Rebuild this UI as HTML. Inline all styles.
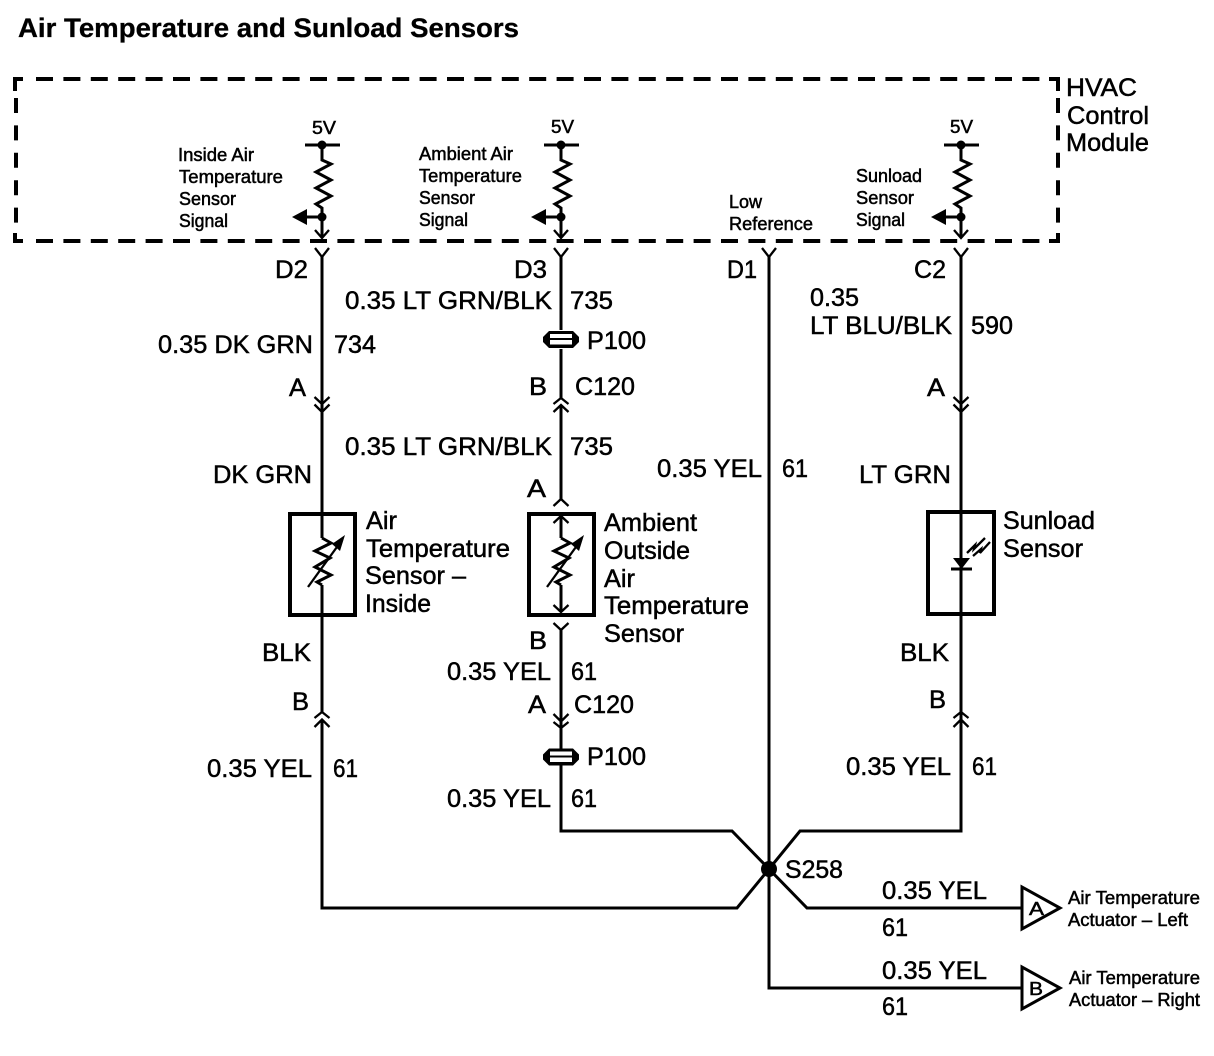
<!DOCTYPE html>
<html><head><meta charset="utf-8"><title>Air Temperature and Sunload Sensors</title>
<style>
html,body{margin:0;padding:0;background:#fff;width:1214px;height:1056px;overflow:hidden}
svg{display:block}
text{font-family:"Liberation Sans",Arial,sans-serif;fill:#000;stroke:#000;stroke-width:.5px}
.b{font-size:25px}.s{font-size:18px}
.t{font-size:27px;font-weight:bold;stroke-width:.3px}
.w{fill:none;stroke:#000;stroke-width:3}
.n{fill:none;stroke:#000;stroke-width:2.3}
.f{fill:#000;stroke:none}
.d{fill:none;stroke:#000;stroke-width:4}
</style></head><body>
<svg width="1214" height="1056" viewBox="0 0 1214 1056" xmlns="http://www.w3.org/2000/svg">
<defs>
<g id="res"><path class="w" d="M0 145V160L9 164L-6 172L9 180L-6 188L9 196L-6 204L0 208V238"/>
<path class="w" d="M-17 145H18"/><circle class="f" cx="0" cy="145" r="4.500"/><circle class="f" cx="0" cy="217" r="4.500"/>
<path class="w" d="M0 217H-16"/><path class="f" d="M-30 217L-15 209V225Z"/>
<path class="n" d="M-7 230L0 238L7 230"/><path class="n" d="M-7 248L0 257L7 248"/></g>
<path id="dn" class="n" d="M-7.500 397L0 404L7.500 397M-7.500 404.500L0 412L7.500 404.500"/>
<path id="up" class="n" d="M-7.500 718L0 712L7.500 718M-7.500 727L0 719.500L7.500 727"/>
<g id="p">
<path class="f" d="M-12 -8.500H12L18 -2.500V2.500L12 8.500H-12L-18 2.500V-2.500Z"/>
<rect x="-11" y="-5.500" width="22" height="4" fill="#fff"/>
<rect x="-11" y="0.500" width="22" height="4.500" fill="#fff"/>
</g>
<g id="th"><path class="w" d="M0 538L9 543L-7 551L8 558L-7 567L9 575L-5 582L0 585"/>
<path class="n" d="M-14 587L20 540"/><path class="f" d="M23 535L10 544L18 551Z"/></g>
</defs>

<text class="t" x="18" y="37" textLength="501" lengthAdjust="spacingAndGlyphs">Air Temperature and Sunload Sensors</text>

<path class="d" d="M15 91V79H23M1049 79H1058V91M15 233V241H23M1049 241H1058V233"/>
<path class="d" d="M36 79H1040M36 241H1040" stroke-dasharray="17 10.400"/>
<path class="d" d="M16 98V225M1058 98V225" stroke-dasharray="15 12.400"/>

<use href="#res" x="322"/><use href="#res" x="561"/><use href="#res" x="961"/>
<path class="n" d="M762 248L769 257L776 248"/>

<path class="w" d="M322 257V538M322 585V712M322 720V908H737L769 869L732 831H561V765M561 330V257M561 349V398M561 405V499"/>
<path class="w" d="M561 630V721M561 721V750"/>
<path class="w" d="M961 257V831H800L769 869L807 908H1022"/>
<path class="w" d="M769 257V988H1022"/>
<circle class="f" cx="769" cy="869" r="8"/>

<use href="#dn" x="322"/><use href="#dn" x="961"/>
<use href="#up" x="322"/><use href="#up" x="961"/>
<path class="n" d="M553.500 404L561 398L568.500 404M553.500 412L561 405L568.500 412"/>
<path class="n" d="M553.500 506L561 499L568.500 506"/>
<path class="n" d="M553.500 623L561 630L568.500 623"/>
<path class="n" d="M553.500 714L561 721.500L568.500 714M553.500 722L561 728L568.500 722"/>
<use href="#p" x="561" y="339.500"/><use href="#p" x="561" y="757"/>

<rect x="290" y="514" width="65" height="101" fill="none" stroke="#000" stroke-width="4"/>
<rect x="529" y="514" width="65" height="101" fill="none" stroke="#000" stroke-width="4"/>
<rect x="928" y="512" width="66" height="102" fill="none" stroke="#000" stroke-width="4"/>
<use href="#th" x="322"/><use href="#th" x="561"/>
<path class="w" d="M561 517V538M561 585V612"/>
<path class="n" d="M553.500 523L561 516L568.500 523M553.500 605L561 612L568.500 605"/>
<path class="f" d="M953 558H970L961.500 569Z"/><path class="w" d="M951 569H972"/>
<path class="n" d="M967 553L975 545L974 549L985 538M973 556L981 549L980 553L990 542"/>

<path d="M1022 887V929L1060 908Z" fill="#fff" stroke="#000" stroke-width="3"/>
<path d="M1022 967V1009L1060 988Z" fill="#fff" stroke="#000" stroke-width="3"/>

<g class="s">
<text class="s" x="312" y="134" textLength="24" lengthAdjust="spacingAndGlyphs">5V</text>
<text class="s" x="551" y="133" textLength="23" lengthAdjust="spacingAndGlyphs">5V</text>
<text class="s" x="950" y="133" textLength="23" lengthAdjust="spacingAndGlyphs">5V</text>
<text class="s" x="178" y="161" textLength="76" lengthAdjust="spacingAndGlyphs">Inside Air</text>
<text class="s" x="179" y="183" textLength="104" lengthAdjust="spacingAndGlyphs">Temperature</text>
<text class="s" x="179" y="205" textLength="57" lengthAdjust="spacingAndGlyphs">Sensor</text>
<text class="s" x="179" y="227" textLength="49" lengthAdjust="spacingAndGlyphs">Signal</text>
<text class="s" x="419" y="160" textLength="94" lengthAdjust="spacingAndGlyphs">Ambient Air</text>
<text class="s" x="419" y="182" textLength="103" lengthAdjust="spacingAndGlyphs">Temperature</text>
<text class="s" x="419" y="204" textLength="56" lengthAdjust="spacingAndGlyphs">Sensor</text>
<text class="s" x="419" y="226" textLength="49" lengthAdjust="spacingAndGlyphs">Signal</text>
<text class="s" x="729" y="208" textLength="33" lengthAdjust="spacingAndGlyphs">Low</text>
<text class="s" x="729" y="230" textLength="84" lengthAdjust="spacingAndGlyphs">Reference</text>
<text class="s" x="856" y="182" textLength="66" lengthAdjust="spacingAndGlyphs">Sunload</text>
<text class="s" x="856" y="204" textLength="58" lengthAdjust="spacingAndGlyphs">Sensor</text>
<text class="s" x="856" y="226" textLength="49" lengthAdjust="spacingAndGlyphs">Signal</text>
<text class="s" x="1068" y="904" textLength="132" lengthAdjust="spacingAndGlyphs">Air Temperature</text>
<text class="s" x="1068" y="926" textLength="120" lengthAdjust="spacingAndGlyphs">Actuator – Left</text>
<text class="s" x="1069" y="984" textLength="131" lengthAdjust="spacingAndGlyphs">Air Temperature</text>
<text class="s" x="1069" y="1006" textLength="131" lengthAdjust="spacingAndGlyphs">Actuator – Right</text>
<text class="s" x="1029" y="915" textLength="15" lengthAdjust="spacingAndGlyphs">A</text>
<text class="s" x="1029" y="995" textLength="14" lengthAdjust="spacingAndGlyphs">B</text>
</g>

<text class="b" x="1066" y="96" textLength="71" lengthAdjust="spacingAndGlyphs">HVAC</text>
<text class="b" x="1067" y="124" textLength="82" lengthAdjust="spacingAndGlyphs">Control</text>
<text class="b" x="1066" y="151" textLength="83" lengthAdjust="spacingAndGlyphs">Module</text>
<text class="b" x="275" y="278" textLength="33" lengthAdjust="spacingAndGlyphs">D2</text>
<text class="b" x="514" y="278" textLength="33" lengthAdjust="spacingAndGlyphs">D3</text>
<text class="b" x="727" y="278" textLength="30" lengthAdjust="spacingAndGlyphs">D1</text>
<text class="b" x="914" y="278" textLength="32" lengthAdjust="spacingAndGlyphs">C2</text>
<text class="b" x="345" y="309" textLength="207" lengthAdjust="spacingAndGlyphs">0.35 LT GRN/BLK</text>
<text class="b" x="570" y="309" textLength="43" lengthAdjust="spacingAndGlyphs">735</text>
<text class="b" x="158" y="353" textLength="155" lengthAdjust="spacingAndGlyphs">0.35 DK GRN</text>
<text class="b" x="334" y="353" textLength="42" lengthAdjust="spacingAndGlyphs">734</text>
<text class="b" x="289" y="396" textLength="17" lengthAdjust="spacingAndGlyphs">A</text>
<text class="b" x="587" y="349" textLength="59" lengthAdjust="spacingAndGlyphs">P100</text>
<text class="b" x="529" y="395" textLength="18" lengthAdjust="spacingAndGlyphs">B</text>
<text class="b" x="575" y="395" textLength="60" lengthAdjust="spacingAndGlyphs">C120</text>
<text class="b" x="345" y="455" textLength="207" lengthAdjust="spacingAndGlyphs">0.35 LT GRN/BLK</text>
<text class="b" x="570" y="455" textLength="43" lengthAdjust="spacingAndGlyphs">735</text>
<text class="b" x="527" y="497" textLength="19" lengthAdjust="spacingAndGlyphs">A</text>
<text class="b" x="213" y="483" textLength="99" lengthAdjust="spacingAndGlyphs">DK GRN</text>
<text class="b" x="859" y="483" textLength="92" lengthAdjust="spacingAndGlyphs">LT GRN</text>
<text class="b" x="657" y="477" textLength="105" lengthAdjust="spacingAndGlyphs">0.35 YEL</text>
<text class="b" x="782" y="477" textLength="26" lengthAdjust="spacingAndGlyphs">61</text>
<text class="b" x="810" y="306" textLength="49" lengthAdjust="spacingAndGlyphs">0.35</text>
<text class="b" x="810" y="334" textLength="142" lengthAdjust="spacingAndGlyphs">LT BLU/BLK</text>
<text class="b" x="971" y="334" textLength="42" lengthAdjust="spacingAndGlyphs">590</text>
<text class="b" x="927" y="396" textLength="18" lengthAdjust="spacingAndGlyphs">A</text>
<text class="b" x="366" y="529" textLength="31" lengthAdjust="spacingAndGlyphs">Air</text>
<text class="b" x="366" y="557" textLength="144" lengthAdjust="spacingAndGlyphs">Temperature</text>
<text class="b" x="365" y="584" textLength="101" lengthAdjust="spacingAndGlyphs">Sensor –</text>
<text class="b" x="365" y="612" textLength="66" lengthAdjust="spacingAndGlyphs">Inside</text>
<text class="b" x="604" y="531" textLength="93" lengthAdjust="spacingAndGlyphs">Ambient</text>
<text class="b" x="604" y="559" textLength="86" lengthAdjust="spacingAndGlyphs">Outside</text>
<text class="b" x="604" y="587" textLength="31" lengthAdjust="spacingAndGlyphs">Air</text>
<text class="b" x="604" y="614" textLength="145" lengthAdjust="spacingAndGlyphs">Temperature</text>
<text class="b" x="604" y="642" textLength="80" lengthAdjust="spacingAndGlyphs">Sensor</text>
<text class="b" x="1003" y="529" textLength="92" lengthAdjust="spacingAndGlyphs">Sunload</text>
<text class="b" x="1003" y="557" textLength="80" lengthAdjust="spacingAndGlyphs">Sensor</text>
<text class="b" x="529" y="649" textLength="18" lengthAdjust="spacingAndGlyphs">B</text>
<text class="b" x="262" y="661" textLength="49" lengthAdjust="spacingAndGlyphs">BLK</text>
<text class="b" x="900" y="661" textLength="49" lengthAdjust="spacingAndGlyphs">BLK</text>
<text class="b" x="447" y="680" textLength="104" lengthAdjust="spacingAndGlyphs">0.35 YEL</text>
<text class="b" x="571" y="680" textLength="26" lengthAdjust="spacingAndGlyphs">61</text>
<text class="b" x="528" y="713" textLength="18" lengthAdjust="spacingAndGlyphs">A</text>
<text class="b" x="574" y="713" textLength="60" lengthAdjust="spacingAndGlyphs">C120</text>
<text class="b" x="292" y="710" textLength="17" lengthAdjust="spacingAndGlyphs">B</text>
<text class="b" x="929" y="708" textLength="17" lengthAdjust="spacingAndGlyphs">B</text>
<text class="b" x="587" y="765" textLength="59" lengthAdjust="spacingAndGlyphs">P100</text>
<text class="b" x="207" y="777" textLength="105" lengthAdjust="spacingAndGlyphs">0.35 YEL</text>
<text class="b" x="333" y="777" textLength="25" lengthAdjust="spacingAndGlyphs">61</text>
<text class="b" x="846" y="775" textLength="105" lengthAdjust="spacingAndGlyphs">0.35 YEL</text>
<text class="b" x="972" y="775" textLength="25" lengthAdjust="spacingAndGlyphs">61</text>
<text class="b" x="447" y="807" textLength="104" lengthAdjust="spacingAndGlyphs">0.35 YEL</text>
<text class="b" x="571" y="807" textLength="26" lengthAdjust="spacingAndGlyphs">61</text>
<text class="b" x="785" y="878" textLength="58" lengthAdjust="spacingAndGlyphs">S258</text>
<text class="b" x="882" y="899" textLength="105" lengthAdjust="spacingAndGlyphs">0.35 YEL</text>
<text class="b" x="882" y="936" textLength="26" lengthAdjust="spacingAndGlyphs">61</text>
<text class="b" x="882" y="979" textLength="105" lengthAdjust="spacingAndGlyphs">0.35 YEL</text>
<text class="b" x="882" y="1015" textLength="26" lengthAdjust="spacingAndGlyphs">61</text>
</svg>
</body></html>
